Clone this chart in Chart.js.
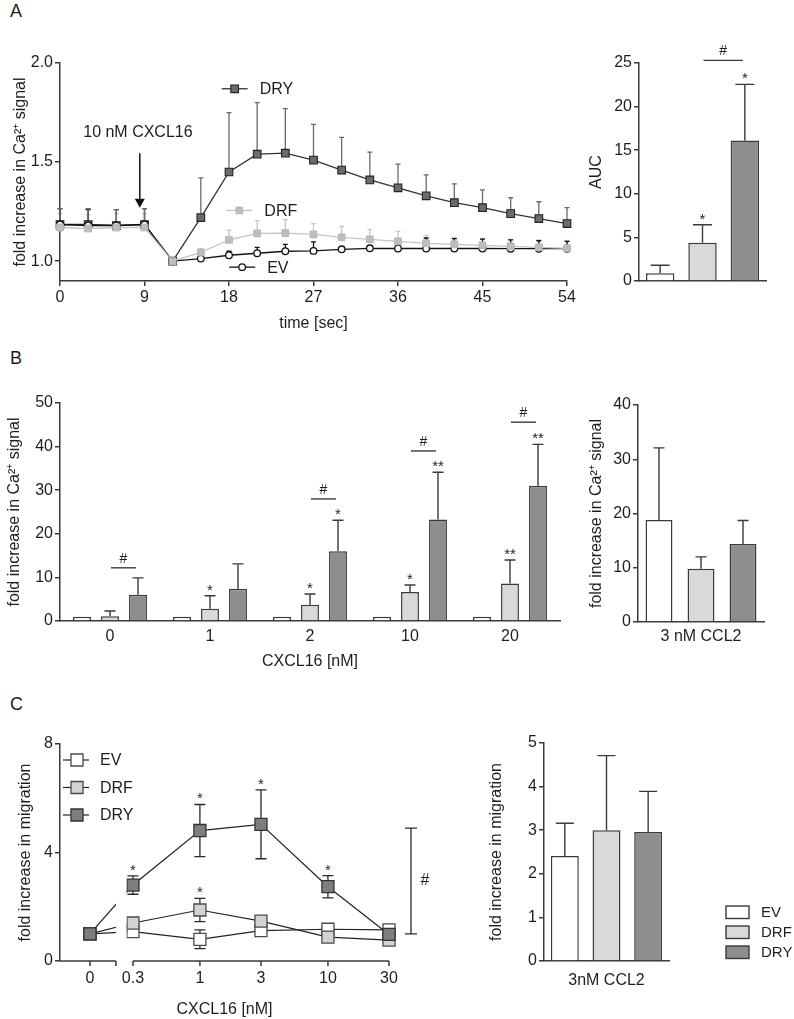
<!DOCTYPE html>
<html>
<head>
<meta charset="utf-8">
<title>CXCL16 calcium signalling and migration</title>
<script src="https://cdn.jsdelivr.net/npm/chart.js@4.4.1/dist/chart.umd.min.js"></script>
<style>
  html, body { margin:0; padding:0; background:#fff; }
  body { position:relative; width:794px; height:1019px; overflow:hidden; font-family:"Liberation Sans", Arial, sans-serif; }
  canvas { position:absolute; }
  .panel { position:absolute; font-size:18px; line-height:18px; color:#1e1e1e; }
</style>
</head>
<body>
<div class="panel" style="left:10px;top:2px">A</div>
<div class="panel" style="left:10px;top:349px">B</div>
<div class="panel" style="left:10px;top:695px">C</div>
<canvas id="a1" width="590" height="300" style="left:0;top:40px"></canvas>
<canvas id="a2" width="234" height="300" style="left:560px;top:40px"></canvas>
<canvas id="b1" width="570" height="330" style="left:0;top:350px"></canvas>
<canvas id="b2" width="224" height="300" style="left:570px;top:350px"></canvas>
<canvas id="c1" width="470" height="329" style="left:0;top:690px"></canvas>
<canvas id="c2" width="324" height="329" style="left:470px;top:690px"></canvas>
<script>
// ================= DATA =================
const groups = ['EV', 'DRF', 'DRY'];

// A (left): Ca2+ time course, mean and upper error
const timeSec  = [0, 3, 6, 9, 12, 15, 18, 21, 24, 27, 30, 33, 36, 39, 42, 45, 48, 51, 54];
const dryCa    = [1.185, 1.185, 1.18, 1.185, 1.00, 1.22, 1.45, 1.54, 1.545, 1.51, 1.46, 1.41, 1.37, 1.33, 1.295, 1.27, 1.24, 1.215, 1.19];
const dryCaErr = [0.08, 0.08, 0.08, 0.08, 0, 0.20, 0.30, 0.26, 0.225, 0.18, 0.165, 0.14, 0.12, 0.105, 0.095, 0.09, 0.08, 0.085, 0.08];
const drfCa    = [1.17, 1.165, 1.17, 1.17, 1.00, 1.044, 1.108, 1.14, 1.142, 1.135, 1.12, 1.11, 1.10, 1.09, 1.085, 1.08, 1.075, 1.07, 1.065];
const drfCaErr = [0.07, 0.07, 0.07, 0.07, 0, 0.021, 0.047, 0.065, 0.068, 0.055, 0.055, 0.05, 0.05, 0.04, 0.035, 0.035, 0.035, 0.037, 0.04];
const evCa     = [1.185, 1.18, 1.18, 1.185, 1.00, 1.013, 1.03, 1.04, 1.05, 1.052, 1.06, 1.065, 1.064, 1.064, 1.064, 1.064, 1.063, 1.063, 1.063];
const evCaErr  = [0.08, 0.08, 0.08, 0.08, 0, 0.005, 0.02, 0.03, 0.035, 0.045, 0.01, 0.01, 0.02, 0.053, 0.05, 0.047, 0.045, 0.04, 0.037];
const timeTicks = [0, 9, 18, 27, 36, 45, 54];
const caTicks   = [1.0, 1.5, 2.0];

// A (right): AUC
const aucMean  = [0.9, 4.4, 16.1];
const aucErr   = [0.9, 2.05, 6.45];
const aucStars = ['', '*', '*'];
const aucHash  = [25.3];
const aucTicks = [0, 5, 10, 15, 20, 25];

// B (left): CXCL16 dose response of Ca2+ signal
const doseLabels   = ['0', '1', '2', '10', '20'];
const evDose       = [1, 1, 1, 1, 1];
const evDoseErr    = [0, 0, 0, 0, 0];
const drfDose      = [1.1, 2.8, 3.7, 6.65, 8.6];
const drfDoseErr   = [1.2, 3.0, 2.5, 1.6, 5.4];
const dryDose      = [6.0, 7.4, 16.0, 23.3, 31.0];
const dryDoseErr   = [3.9, 5.7, 7.1, 10.8, 9.5];
const drfDoseStars = ['', '*', '*', '*', '**'];
const dryDoseStars = ['', '', '*', '**', '**'];
const doseHash     = [12.2, null, 28.0, 39.0, 45.6];
const doseTicks    = [0, 10, 20, 30, 40, 50];

// B (right): 3 nM CCL2
const ccl2CaLabel = ['3 nM CCL2'];
const ccl2Ca      = [18.8, 9.8, 14.4];
const ccl2CaErr   = [13.3, 2.2, 4.3];
const ccl2CaTicks = [0, 10, 20, 30, 40];

// C (left): migration vs CXCL16
const migConc       = [0, 0.3, 1, 3, 10, 30];
const migConcLabels = ['0', '0.3', '1', '3', '10', '30'];
const evMig       = [1.0, 1.08, 0.80, 1.12, 1.17, 1.15];
const evMigErr    = [0, 0.1, 0.345, 0.12, 0.1, 0.1];
const drfMig      = [1.0, 1.40, 1.88, 1.47, 0.88, 0.77];
const drfMigErr   = [0, 0.1, 0.43, 0.12, 0.1, 0.1];
const dryMig      = [1.0, 2.80, 4.81, 5.04, 2.74, 0.98];
const dryMigErr   = [0, 0.34, 0.96, 1.27, 0.41, 0.1];
const dryMigStars = ['', '*', '*', '*', '*', ''];
const drfMigStars = ['', '', '*', '', '', ''];
const migHash     = [1.0, 4.9];
const migTicks    = [0, 4, 8];

// C (right): 3nM CCL2 migration
const ccl2MigLabel = ['3nM CCL2'];
const ccl2Mig      = [2.41, 3.0, 2.96];
const ccl2MigErr   = [0.75, 1.71, 0.93];
const ccl2MigTicks = [0, 1, 2, 3, 4, 5];

// ================= STYLE =================
const FONT = '"Liberation Sans", Arial, Helvetica, sans-serif';
const AX = '#3a3a3a', AXW = 1.5, TXT = '#1e1e1e';
const barFill = ['#ffffff', '#d9d9d9', '#8e8e8e'];
Chart.defaults.font.family = FONT;
Chart.defaults.font.size = 16;
Chart.defaults.color = TXT;
Chart.defaults.animation = false;
Chart.defaults.events = [];
Chart.defaults.plugins.legend.display = false;
Chart.defaults.plugins.tooltip.enabled = false;

const yVal = d => (d !== null && typeof d === 'object') ? d.y : d;

function drawMarker(ctx, style, x, y, r, fill, stroke, bw) {
  ctx.save();
  ctx.beginPath();
  if (style === 'circle') ctx.arc(x, y, r, 0, Math.PI * 2);
  else { const h = r * Math.SQRT1_2; ctx.rect(x - h, y - h, 2 * h, 2 * h); }
  ctx.fillStyle = fill; ctx.fill();
  if (bw) { ctx.lineWidth = bw; ctx.strokeStyle = stroke; ctx.stroke(); }
  ctx.restore();
}

// error bars (behind marks) + significance stars (above error caps)
const errPlugin = {
  id: 'errBars',
  beforeDatasetsDraw(chart) {
    const ctx = chart.ctx;
    chart.data.datasets.forEach((ds, di) => {
      if (!ds.err) return;
      const meta = chart.getDatasetMeta(di);
      const ys = chart.scales[meta.yAxisID];
      ctx.save();
      ctx.strokeStyle = ds.errColor || AX;
      ctx.lineWidth = ds.errWidth || 1.4;
      meta.data.forEach((el, i) => {
        const e = ds.err[i];
        if (!e) return;
        const v = yVal(ds.data[i]);
        const x = el.x, cw = (ds.capWidth || 10) / 2;
        const yTop = ys.getPixelForValue(v + e);
        const yBot = ys.getPixelForValue(ds.errBoth ? v - e : v);
        ctx.beginPath();
        ctx.moveTo(x, yBot); ctx.lineTo(x, yTop);
        ctx.moveTo(x - cw, yTop); ctx.lineTo(x + cw, yTop);
        if (ds.errBoth) { ctx.moveTo(x - cw, yBot); ctx.lineTo(x + cw, yBot); }
        ctx.stroke();
      });
      ctx.restore();
    });
  },
  afterDatasetsDraw(chart) {
    const ctx = chart.ctx;
    chart.data.datasets.forEach((ds, di) => {
      if (!ds.stars) return;
      const meta = chart.getDatasetMeta(di);
      const ys = chart.scales[meta.yAxisID];
      ctx.save();
      ctx.fillStyle = TXT;
      ctx.font = '15px ' + FONT;
      ctx.textAlign = 'center';
      ctx.textBaseline = 'alphabetic';
      meta.data.forEach((el, i) => {
        const s = ds.stars[i];
        if (!s) return;
        const v = yVal(ds.data[i]) + ((ds.err && ds.err[i]) || 0);
        ctx.fillText(s, el.x, ys.getPixelForValue(v) - 1);
      });
      ctx.restore();
    });
  }
};

function hashPlugin(levels, fontPx) {
  return {
    id: 'hashLines',
    afterDatasetsDraw(chart) {
      const ctx = chart.ctx, ys = chart.scales.y;
      const m1 = chart.getDatasetMeta(1), m2 = chart.getDatasetMeta(2);
      ctx.save();
      ctx.strokeStyle = AX; ctx.lineWidth = 1.4; ctx.fillStyle = TXT;
      ctx.font = fontPx + 'px ' + FONT;
      ctx.textAlign = 'center'; ctx.textBaseline = 'alphabetic';
      levels.forEach((lv, i) => {
        if (lv === null || lv === undefined) return;
        const x1 = m1.data[i].x + 1, x2 = m2.data[i].x - 2, y = ys.getPixelForValue(lv);
        ctx.beginPath(); ctx.moveTo(x1, y); ctx.lineTo(x2, y); ctx.stroke();
        ctx.fillText('#', (x1 + x2) / 2, y - 5);
      });
      ctx.restore();
    }
  };
}

function yAxis(o) {
  return {
    min: o.min, max: o.max,
    afterBuildTicks: s => { s.ticks = o.ticks.map(v => ({ value: v })); },
    afterFit: s => { s.width = o.width; },
    grid: { display: true, drawOnChartArea: false, drawTicks: true, tickLength: 5, color: AX, lineWidth: AXW },
    border: { display: true, color: AX, width: AXW },
    ticks: { padding: 2, color: TXT, autoSkip: false, callback: o.fmt || (v => String(v)) },
    title: o.title ? { display: true, text: o.title, color: TXT, font: { size: 16 }, padding: { top: o.titlePad, bottom: 0 } } : { display: false }
  };
}
function catAxis(o) {
  return {
    afterFit: s => { s.height = o.height; },
    grid: { display: false, drawTicks: false },
    border: { display: true, color: AX, width: AXW },
    ticks: { display: o.showTicks, padding: o.pad || 0, color: TXT, maxRotation: 0, autoSkip: false },
    title: o.title ? { display: true, text: o.title, color: TXT, font: { size: 16 }, padding: { top: 0, bottom: o.titlePad } } : { display: false }
  };
}
function barDatasets(means, errs, stars, cap, catPct, barPct) {
  return groups.map((g, i) => ({
    label: g,
    data: means[i],
    err: errs[i],
    stars: stars ? stars[i] : null,
    capWidth: cap,
    backgroundColor: barFill[i],
    borderColor: AX,
    borderWidth: 1.5,
    categoryPercentage: catPct,
    barPercentage: barPct
  }));
}

// ================= A: time course =================
const A1_KEY = [
  { name: 'DRY', t: 18.6, v: 1.87 },
  { name: 'DRF', t: 19.1, v: 1.256 },
  { name: 'EV',  t: 19.4, v: 0.97 }
];
const a1Styles = {
  DRY: { style: 'rect',   r: 5.4, fill: '#6b6b6b', stroke: '#222', bw: 1.1, line: '#333333' },
  DRF: { style: 'rect',   r: 4.8, fill: '#bdbdbd', stroke: '#b8b8b8', bw: 1,   line: '#c4c4c4' },
  EV:  { style: 'circle', r: 3.3, fill: '#ffffff', stroke: '#111', bw: 1.3, line: '#111111' }
};
function lineDs(name, vals, errs, errColor) {
  const st = a1Styles[name];
  return {
    label: name,
    data: timeSec.map((t, i) => ({ x: t, y: vals[i] })),
    err: errs, errColor: errColor, capWidth: 5, errWidth: 1.3,
    clip: false,
    borderColor: st.line, borderWidth: 1.3, tension: 0,
    pointStyle: st.style, pointRadius: st.r,
    pointBackgroundColor: st.fill, pointBorderColor: st.stroke, pointBorderWidth: st.bw
  };
}
const a1Annot = {
  id: 'a1Annot',
  afterDatasetsDraw(chart) {
    const { ctx, scales: { x, y } } = chart;
    ctx.save();
    ctx.font = '16px ' + FONT; ctx.fillStyle = TXT; ctx.textBaseline = 'middle'; ctx.textAlign = 'left';
    A1_KEY.forEach(k => {
      const st = a1Styles[k.name];
      const px = x.getPixelForValue(k.t), py = y.getPixelForValue(k.v);
      ctx.strokeStyle = st.line; ctx.lineWidth = 1.3;
      ctx.beginPath(); ctx.moveTo(px - 13, py); ctx.lineTo(px + 13, py); ctx.stroke();
      drawMarker(ctx, st.style, px, py, st.r, st.fill, st.stroke, st.bw);
      ctx.fillText(k.name, px + 25, py + 1);
    });
    // stimulus arrow
    const ax = x.getPixelForValue(8.5);
    const yA = y.getPixelForValue(1.545), yB = y.getPixelForValue(1.27);
    ctx.strokeStyle = '#111'; ctx.fillStyle = '#111'; ctx.lineWidth = 1.5;
    ctx.beginPath(); ctx.moveTo(ax, yA); ctx.lineTo(ax, yB - 6); ctx.stroke();
    ctx.beginPath(); ctx.moveTo(ax - 5, yB - 9); ctx.lineTo(ax + 5, yB - 9); ctx.lineTo(ax, yB); ctx.closePath(); ctx.fill();
    ctx.fillStyle = TXT; ctx.textAlign = 'center';
    ctx.fillText('10 nM CXCL16', x.getPixelForValue(8.3), y.getPixelForValue(1.648));
    ctx.restore();
  }
};
new Chart(document.getElementById('a1'), {
  type: 'line',
  data: { datasets: [
    lineDs('DRF', drfCa, drfCaErr, '#c8c8c8'),
    lineDs('EV', evCa, evCaErr, '#111111'),
    lineDs('DRY', dryCa, dryCaErr, '#6a6a6a')
  ] },
  options: {
    responsive: false,
    layout: { padding: { top: 23, right: 23, left: 0, bottom: 0 } },
    scales: {
      x: {
        type: 'linear', min: 0, max: 54,
        afterBuildTicks: s => { s.ticks = timeTicks.map(v => ({ value: v })); },
        afterFit: s => { s.height = 59; },
        grid: { display: true, drawOnChartArea: false, drawTicks: true, tickLength: 5, color: AX, lineWidth: AXW },
        border: { display: true, color: AX, width: AXW },
        ticks: { padding: 2, color: TXT, maxRotation: 0, autoSkip: false },
        title: { display: true, text: 'time [sec]', color: TXT, font: { size: 16 }, padding: { top: 0, bottom: 7 } }
      },
      y: yAxis({ min: 0.9, max: 2.0, ticks: caTicks, width: 60, fmt: v => v.toFixed(1),
                 title: 'fold increase in Ca²⁺ signal', titlePad: 11 })
    }
  },
  plugins: [errPlugin, a1Annot]
});

// ================= A: AUC =================
new Chart(document.getElementById('a2'), {
  type: 'bar',
  data: { labels: [''], datasets: barDatasets(aucMean.map(v => [v]), aucErr.map(v => [v]), aucStars.map(v => [v]), 19, 1.0, 0.67) },
  options: {
    responsive: false,
    layout: { padding: { top: 23, right: 28, left: 0, bottom: 0 } },
    scales: {
      x: catAxis({ height: 59, showTicks: false }),
      y: yAxis({ min: 0, max: 25, ticks: aucTicks, width: 79, title: 'AUC', titlePad: 27 })
    }
  },
  plugins: [errPlugin, hashPlugin(aucHash, 14)]
});

// ================= B: dose response =================
new Chart(document.getElementById('b1'), {
  type: 'bar',
  data: { labels: doseLabels, datasets: barDatasets([evDose, drfDose, dryDose], [evDoseErr, drfDoseErr, dryDoseErr], [null, drfDoseStars, dryDoseStars], 11, 0.84, 0.64) },
  options: {
    responsive: false,
    layout: { padding: { top: 53, right: 10, left: 0, bottom: 0 } },
    scales: {
      x: catAxis({ height: 59, showTicks: true, pad: 6, title: 'CXCL16 [nM]', titlePad: 9 }),
      y: yAxis({ min: 0, max: 50, ticks: doseTicks, width: 60, title: 'fold increase in Ca²⁺ signal', titlePad: 5 })
    }
  },
  plugins: [errPlugin, hashPlugin(doseHash, 14)]
});

new Chart(document.getElementById('b2'), {
  type: 'bar',
  data: { labels: ccl2CaLabel, datasets: barDatasets(ccl2Ca.map(v => [v]), ccl2CaErr.map(v => [v]), null, 11, 1.0, 0.64) },
  options: {
    responsive: false,
    layout: { padding: { top: 55, right: 30, left: 0, bottom: 0 } },
    scales: {
      x: catAxis({ height: 28, showTicks: true, pad: 5 }),
      y: yAxis({ min: 0, max: 40, ticks: ccl2CaTicks, width: 68, title: 'fold increase in Ca²⁺ signal', titlePad: 17 })
    }
  },
  plugins: [errPlugin]
});

// ================= C: migration =================
// x axis: log10 of concentration, with the zero dose placed left of an axis break
const ZERO_POS = Math.log10(0.3) - 0.336;
const X_MIN = ZERO_POS - 0.234;
const BREAK_FROM = ZERO_POS + 0.203;
const BREAK_TO = Math.log10(0.3) - 0.05;
const concPos = c => (c === 0 ? ZERO_POS : Math.log10(c));
const c1Styles = {
  EV:  { fill: '#ffffff', stroke: '#4a4a4a' },
  DRF: { fill: '#d2d2d2', stroke: '#4a4a4a' },
  DRY: { fill: '#7e7e7e', stroke: '#333333' }
};
function migDs(name, vals, errs, stars) {
  const st = c1Styles[name];
  return {
    label: name,
    data: migConc.map((c, i) => ({ x: concPos(c), y: vals[i] })),
    err: errs, errBoth: true, capWidth: 11, errColor: '#2a2a2a', errWidth: 1.3,
    stars: stars,
    clip: false,
    borderColor: '#222', borderWidth: 1.2, tension: 0,
    pointStyle: 'rect', pointRadius: 8.5,
    pointBackgroundColor: st.fill, pointBorderColor: st.stroke, pointBorderWidth: 1.3
  };
}
const c1Plugin = {
  id: 'c1Break',
  beforeDatasetsDraw(chart) {
    const { ctx, scales: { x } } = chart;
    const g1 = x.getPixelForValue(BREAK_FROM), g2 = x.getPixelForValue(BREAK_TO);
    ctx.save();
    ctx.beginPath();
    ctx.rect(0, 0, g1, chart.height);
    ctx.rect(g2, 0, chart.width - g2, chart.height);
    ctx.clip();
  },
  afterDatasetsDraw(chart) { chart.ctx.restore(); },
  afterDraw(chart) {
    const { ctx, scales: { x, y }, chartArea: { left, right, bottom, top } } = chart;
    const b1 = x.getPixelForValue(BREAK_FROM);
    const s2 = x.getPixelForValue(concPos(migConc[1]));
    ctx.save();
    ctx.strokeStyle = AX; ctx.lineWidth = AXW;
    ctx.beginPath();
    ctx.moveTo(left - 0.75, bottom); ctx.lineTo(b1, bottom);
    ctx.moveTo(s2, bottom); ctx.lineTo(right, bottom);
    migConc.map(c => x.getPixelForValue(concPos(c))).concat([b1]).forEach(px => {
      ctx.moveTo(px, bottom); ctx.lineTo(px, bottom + 5);
    });
    ctx.stroke();
    // bracket with #
    const bx = right + 22, yb0 = y.getPixelForValue(migHash[0]), yb1 = y.getPixelForValue(migHash[1]);
    ctx.strokeStyle = '#2a2a2a'; ctx.lineWidth = 1.3;
    ctx.beginPath();
    ctx.moveTo(bx, yb0); ctx.lineTo(bx, yb1);
    ctx.moveTo(bx - 6, yb0); ctx.lineTo(bx + 6, yb0);
    ctx.moveTo(bx - 6, yb1); ctx.lineTo(bx + 6, yb1);
    ctx.stroke();
    ctx.fillStyle = TXT; ctx.font = '16px ' + FONT; ctx.textAlign = 'center'; ctx.textBaseline = 'middle';
    ctx.fillText('#', bx + 14, (yb0 + yb1) / 2);
    // legend
    ctx.textAlign = 'left';
    groups.forEach((g, i) => {
      const ly = top + 16 + i * 27.5, lx = left + 17;
      ctx.strokeStyle = '#222'; ctx.lineWidth = 1.2;
      ctx.beginPath(); ctx.moveTo(left + 3, ly); ctx.lineTo(left + 29, ly); ctx.stroke();
      drawMarker(ctx, 'rect', lx, ly, 8.5, c1Styles[g].fill, c1Styles[g].stroke, 1.3);
      ctx.fillStyle = TXT;
      ctx.fillText(g, left + 40, ly + 1);
    });
    ctx.restore();
  }
};
new Chart(document.getElementById('c1'), {
  type: 'line',
  data: { datasets: [
    migDs('DRY', dryMig, dryMigErr, dryMigStars),
    migDs('DRF', drfMig, drfMigErr, drfMigStars),
    migDs('EV', evMig, evMigErr, null)
  ] },
  options: {
    responsive: false,
    layout: { padding: { top: 54, right: 81, left: 0, bottom: 0 } },
    scales: {
      x: {
        type: 'linear', min: X_MIN, max: Math.log10(30),
        afterBuildTicks: s => { s.ticks = migConc.map(c => ({ value: concPos(c) })); },
        afterFit: s => { s.height = 58; },
        grid: { display: false, drawTicks: false },
        border: { display: false },
        ticks: { padding: 8, color: TXT, maxRotation: 0, autoSkip: false, callback: (v, i) => migConcLabels[i] },
        title: { display: true, text: 'CXCL16 [nM]', color: TXT, font: { size: 16 }, padding: { top: 0, bottom: 0 } }
      },
      y: yAxis({ min: 0, max: 8, ticks: migTicks, width: 60, title: 'fold increase in migration', titlePad: 16 })
    }
  },
  plugins: [errPlugin, c1Plugin]
});

const c2Legend = {
  id: 'c2Legend',
  afterDraw(chart) {
    const { ctx, chartArea: { right, bottom } } = chart;
    ctx.save();
    ctx.font = '15px ' + FONT; ctx.textAlign = 'left'; ctx.textBaseline = 'middle';
    groups.forEach((g, i) => {
      const by = bottom - 55 + i * 20;
      ctx.fillStyle = barFill[i]; ctx.strokeStyle = AX; ctx.lineWidth = 1.4;
      ctx.fillRect(right + 57, by, 23, 12.5);
      ctx.strokeRect(right + 57, by, 23, 12.5);
      ctx.fillStyle = TXT;
      ctx.fillText(g, right + 92, by + 7);
    });
    ctx.restore();
  }
};
new Chart(document.getElementById('c2'), {
  type: 'bar',
  data: { labels: ccl2MigLabel, datasets: barDatasets(ccl2Mig.map(v => [v]), ccl2MigErr.map(v => [v]), null, 18, 1.0, 0.67) },
  options: {
    responsive: false,
    layout: { padding: { top: 53, right: 125, left: 0, bottom: 0 } },
    scales: {
      x: catAxis({ height: 58, showTicks: true, pad: 10 }),
      y: yAxis({ min: 0, max: 5, ticks: ccl2MigTicks, width: 74, title: 'fold increase in migration', titlePad: 17 })
    }
  },
  plugins: [errPlugin, c2Legend]
});
</script>
</body>
</html>
